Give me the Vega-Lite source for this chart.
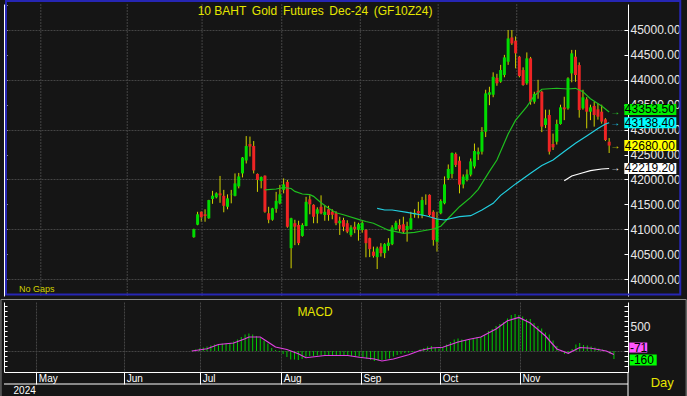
{
  "$schema": "https://vega.github.io/schema/vega-lite/v6.json",
  "background": "#151515",
  "padding": {"left": 0, "top": 0, "right": 0, "bottom": 0},
  "spacing": 1,
  "config": {
    "view": {"stroke": null},
    "font": "Liberation Sans",
    "axis": {"labelFont": "Liberation Sans", "labelColor": "#e8e8e8", "domainColor": "#ffffff", "tickColor": "#ffffff", "gridColor": "#444444", "gridDash": [2, 1], "title": null, "zindex": 0}
  },
  "datasets": {
    "candles": [
      {"i":0,"o":40840,"h":41010,"l":40830,"c":41000},{"i":1,"o":41090,"h":41350,"l":41080,"c":41300},{"i":2,"o":41350,"h":41360,"l":41150,"c":41240},{"i":3,"o":41300,"h":41400,"l":41150,"c":41265},{"i":4,"o":41220,"h":41590,"l":41210,"c":41585},{"i":5,"o":41606,"h":41770,"l":41510,"c":41673},{"i":6,"o":41640,"h":41740,"l":41620,"c":41720},{"i":7,"o":41720,"h":42070,"l":41530,"c":41680},{"i":8,"o":41670,"h":41790,"l":41340,"c":41470},{"i":9,"o":41450,"h":41700,"l":41400,"c":41620},
      {"i":10,"o":41700,"h":41790,"l":41520,"c":41710},{"i":11,"o":41670,"h":42120,"l":41660,"c":41920},{"i":12,"o":41860,"h":42130,"l":41820,"c":42060},{"i":13,"o":42120,"h":42450,"l":42040,"c":42440},{"i":14,"o":42380,"h":42870,"l":42320,"c":42670},{"i":15,"o":42710,"h":42860,"l":42460,"c":42660},{"i":16,"o":42670,"h":42770,"l":42120,"c":42180},{"i":17,"o":42110,"h":42120,"l":41750,"c":41990},{"i":18,"o":41970,"h":42060,"l":41820,"c":42050},{"i":19,"o":42075,"h":42080,"l":41330,"c":41350},
      {"i":20,"o":41320,"h":41450,"l":41120,"c":41190},{"i":21,"o":41190,"h":41430,"l":41170,"c":41420},{"i":22,"o":41410,"h":41750,"l":41330,"c":41570},{"i":23,"o":41520,"h":41890,"l":41500,"c":41700},{"i":24,"o":41790,"h":42020,"l":41720,"c":41900},{"i":25,"o":41950,"h":41990,"l":41030,"c":41050},{"i":26,"o":40620,"h":41230,"l":40215,"c":41220},{"i":27,"o":41120,"h":41190,"l":40680,"c":41050},{"i":28,"o":41085,"h":41170,"l":40680,"c":40720},{"i":29,"o":40865,"h":41120,"l":40850,"c":41085},
      {"i":30,"o":41065,"h":41650,"l":41060,"c":41550},{"i":31,"o":41600,"h":41680,"l":41300,"c":41500},{"i":32,"o":41490,"h":41500,"l":41120,"c":41250},{"i":33,"o":41310,"h":41440,"l":41120,"c":41400},{"i":34,"o":41450,"h":41680,"l":41300,"c":41320},{"i":35,"o":41285,"h":41470,"l":41170,"c":41350},{"i":36,"o":41400,"h":41470,"l":41170,"c":41285},{"i":37,"o":41350,"h":41400,"l":41200,"c":41290},{"i":38,"o":41320,"h":41360,"l":41080,"c":41120},{"i":39,"o":41120,"h":41250,"l":40885,"c":41170},
      {"i":40,"o":41185,"h":41230,"l":40960,"c":41050},{"i":41,"o":41120,"h":41180,"l":40920,"c":40950},{"i":42,"o":40885,"h":41080,"l":40850,"c":41037},{"i":43,"o":41050,"h":41150,"l":40920,"c":41000},{"i":44,"o":40990,"h":41130,"l":40770,"c":41100},{"i":45,"o":40985,"h":41160,"l":40930,"c":41130},{"i":46,"o":40985,"h":41000,"l":40436,"c":40720},{"i":47,"o":40820,"h":40830,"l":40440,"c":40600},{"i":48,"o":40550,"h":40650,"l":40430,"c":40465},{"i":49,"o":40440,"h":40650,"l":40200,"c":40615},
      {"i":50,"o":40650,"h":40720,"l":40450,"c":40520},{"i":51,"o":40520,"h":40720,"l":40420,"c":40700},{"i":52,"o":40665,"h":40820,"l":40570,"c":40730},{"i":53,"o":40700,"h":41080,"l":40680,"c":41037},{"i":54,"o":41000,"h":41170,"l":40980,"c":41130},{"i":55,"o":41085,"h":41200,"l":40950,"c":41005},{"i":56,"o":41100,"h":41250,"l":40920,"c":40950},{"i":57,"o":40985,"h":41150,"l":40750,"c":41064},{"i":58,"o":41005,"h":41350,"l":40990,"c":41220},{"i":59,"o":41300,"h":41400,"l":41230,"c":41330},
      {"i":60,"o":41365,"h":41550,"l":41220,"c":41320},{"i":61,"o":41285,"h":41650,"l":41220,"c":41585},{"i":62,"o":41590,"h":41700,"l":41490,"c":41586},{"i":63,"o":41690,"h":41700,"l":41260,"c":41285},{"i":64,"o":41350,"h":41380,"l":40670,"c":40785},{"i":65,"o":40750,"h":41350,"l":40550,"c":41200},{"i":66,"o":41320,"h":41600,"l":41300,"c":41566},{"i":67,"o":41520,"h":42060,"l":41500,"c":41900},{"i":68,"o":42022,"h":42300,"l":41990,"c":42210},{"i":69,"o":42110,"h":42540,"l":42020,"c":42530},
      {"i":70,"o":42510,"h":42540,"l":42250,"c":42290},{"i":71,"o":42376,"h":42460,"l":41720,"c":41895},{"i":72,"o":41900,"h":42100,"l":41820,"c":42056},{"i":73,"o":41990,"h":42200,"l":41960,"c":42100},{"i":74,"o":42095,"h":42420,"l":42060,"c":42362},{"i":75,"o":42260,"h":42720,"l":42220,"c":42570},{"i":76,"o":42503,"h":42640,"l":42390,"c":42557},{"i":77,"o":42557,"h":43050,"l":42500,"c":42958},{"i":78,"o":42958,"h":43800,"l":42850,"c":43728},{"i":79,"o":43700,"h":43860,"l":43490,"c":43750},
      {"i":80,"o":43700,"h":44150,"l":43650,"c":44060},{"i":81,"o":44040,"h":44120,"l":43880,"c":43930},{"i":82,"o":43962,"h":44300,"l":43940,"c":44196},{"i":83,"o":44096,"h":44500,"l":44050,"c":44450},{"i":84,"o":44363,"h":45000,"l":44300,"c":44830},{"i":85,"o":44850,"h":45000,"l":44700,"c":44730},{"i":86,"o":44785,"h":44870,"l":44230,"c":44532},{"i":87,"o":44464,"h":44480,"l":44050,"c":44076},{"i":88,"o":44196,"h":44250,"l":43880,"c":43895},{"i":89,"o":43930,"h":44550,"l":43900,"c":44430},
      {"i":90,"o":44431,"h":44460,"l":43500,"c":43560},{"i":91,"o":43560,"h":43760,"l":43520,"c":43715},{"i":92,"o":43780,"h":44000,"l":43620,"c":43740},{"i":93,"o":43760,"h":43780,"l":42950,"c":43060},{"i":94,"o":43092,"h":43400,"l":43030,"c":43226},{"i":95,"o":43293,"h":43400,"l":42500,"c":42557},{"i":96,"o":42711,"h":42920,"l":42590,"c":42644},{"i":97,"o":42757,"h":43200,"l":42700,"c":43112},{"i":98,"o":43112,"h":43500,"l":43100,"c":43447},{"i":99,"o":43447,"h":43660,"l":43190,"c":43407},
      {"i":100,"o":43427,"h":44050,"l":43400,"c":44029},{"i":101,"o":44129,"h":44600,"l":43950,"c":44531},{"i":102,"o":44464,"h":44600,"l":43960,"c":44096},{"i":103,"o":44296,"h":44350,"l":43240,"c":43393},{"i":104,"o":43427,"h":43800,"l":43400,"c":43648},{"i":105,"o":43608,"h":43650,"l":43025,"c":43360},{"i":106,"o":43360,"h":43500,"l":43190,"c":43447},{"i":107,"o":43474,"h":43560,"l":43060,"c":43293},{"i":108,"o":43407,"h":43520,"l":43200,"c":43260},{"i":109,"o":43360,"h":43500,"l":43120,"c":43160},
      {"i":110,"o":43206,"h":43230,"l":42770,"c":42791},{"i":111,"o":42757,"h":42830,"l":42530,"c":42680}
    ],
    "ma": [
      {"s":"g","i":19,"v":41790},{"s":"g","i":22,"v":41807},{"s":"g","i":24,"v":41837},{"s":"g","i":26,"v":41817},{"s":"g","i":27,"v":41760},{"s":"g","i":29,"v":41707},{"s":"g","i":31,"v":41695},{"s":"g","i":32,"v":41660},{"s":"g","i":34,"v":41530},{"s":"g","i":36,"v":41420},{"s":"g","i":38,"v":41330},{"s":"g","i":40,"v":41290},{"s":"g","i":44,"v":41199},{"s":"g","i":46,"v":41155},{"s":"g","i":48,"v":41120},{"s":"g","i":50,"v":41050},{"s":"g","i":52,"v":40980},{"s":"g","i":54,"v":40950},{"s":"g","i":56,"v":40918},{"s":"g","i":59,"v":40938},{"s":"g","i":61,"v":40964},{"s":"g","i":64,"v":41004},{"s":"g","i":66,"v":41060},{"s":"g","i":68,"v":41220},{"s":"g","i":71,"v":41452},{"s":"g","i":74,"v":41640},{"s":"g","i":76,"v":41800},{"s":"g","i":79,"v":42160},{"s":"g","i":81,"v":42390},{"s":"g","i":84,"v":42910},{"s":"g","i":86,"v":43190},{"s":"g","i":89,"v":43460},{"s":"g","i":91,"v":43680},{"s":"g","i":93,"v":43810},{"s":"g","i":97,"v":43830},{"s":"g","i":100,"v":43815},{"s":"g","i":102,"v":43829},{"s":"g","i":104,"v":43760},{"s":"g","i":106,"v":43620},{"s":"g","i":109,"v":43474},{"s":"g","i":111,"v":43353.5},
      {"s":"c","i":49,"v":41420},{"s":"c","i":51,"v":41386},{"s":"c","i":53,"v":41386},{"s":"c","i":57,"v":41339},{"s":"c","i":62,"v":41271},{"s":"c","i":65,"v":41205},{"s":"c","i":67,"v":41185},{"s":"c","i":71,"v":41251},{"s":"c","i":74,"v":41271},{"s":"c","i":77,"v":41386},{"s":"c","i":80,"v":41520},{"s":"c","i":82,"v":41680},{"s":"c","i":86,"v":41910},{"s":"c","i":90,"v":42122},{"s":"c","i":93,"v":42280},{"s":"c","i":96,"v":42390},{"s":"c","i":99,"v":42560},{"s":"c","i":102,"v":42725},{"s":"c","i":105,"v":42870},{"s":"c","i":108,"v":43020},{"s":"c","i":110,"v":43112},{"s":"c","i":111,"v":43138.4},
      {"s":"w","i":99,"v":41974},{"s":"w","i":101,"v":42068},{"s":"w","i":104,"v":42134},{"s":"w","i":106,"v":42175},{"s":"w","i":109,"v":42209},{"s":"w","i":111,"v":42219.2}
    ],
    "labels": [
      {"t":"43353.50","v":43353.5,"k":"g"},{"t":"43138.40","v":43138.4,"k":"c"},{"t":"42680.00","v":42680,"k":"y"},{"t":"42219.20","v":42219.2,"k":"w"}
    ],
    "months": [
      {"p":-40.9,"n":"May"},{"p":-17.8,"n":"Jun"},{"p":2.2,"n":"Jul"},{"p":23.5,"n":"Aug"},{"p":44.5,"n":"Sep"},{"p":65.3,"n":"Oct"},{"p":86.3,"n":"Nov"}
    ],
    "macd": [
      {"i":0,"m":10},{"i":1,"m":30},{"i":2,"m":50},{"i":3,"m":70},{"i":4,"m":90},{"i":5,"m":110},{"i":6,"m":130},{"i":7,"m":140},{"i":8,"m":150},{"i":9,"m":150},
      {"i":10,"m":160},{"i":11,"m":190},{"i":12,"m":230},{"i":13,"m":280},{"i":14,"m":330},{"i":15,"m":350},{"i":16,"m":330},{"i":17,"m":300},{"i":18,"m":260},{"i":19,"m":210},
      {"i":20,"m":150},{"i":21,"m":60},{"i":22,"m":20},{"i":23,"m":-20},{"i":24,"m":-60},{"i":25,"m":-120},{"i":26,"m":-170},{"i":27,"m":-170},{"i":28,"m":-180},{"i":29,"m":-160},
      {"i":30,"m":-120},{"i":31,"m":-100},{"i":32,"m":-100},{"i":33,"m":-90},{"i":34,"m":-90},{"i":35,"m":-85},{"i":36,"m":-80},{"i":37,"m":-80},{"i":38,"m":-85},{"i":39,"m":-90},
      {"i":40,"m":-95},{"i":41,"m":-100},{"i":42,"m":-100},{"i":43,"m":-110},{"i":44,"m":-115},{"i":45,"m":-120},{"i":46,"m":-150},{"i":47,"m":-180},{"i":48,"m":-200},{"i":49,"m":-190},
      {"i":50,"m":-180},{"i":51,"m":-170},{"i":52,"m":-150},{"i":53,"m":-110},{"i":54,"m":-80},{"i":55,"m":-60},{"i":56,"m":-40},{"i":57,"m":-30},{"i":58,"m":-20},{"i":59,"m":0},
      {"i":60,"m":30},{"i":61,"m":60},{"i":62,"m":90},{"i":63,"m":100},{"i":64,"m":60},{"i":65,"m":50},{"i":66,"m":80},{"i":67,"m":130},{"i":68,"m":180},{"i":69,"m":230},
      {"i":70,"m":250},{"i":71,"m":230},{"i":72,"m":220},{"i":73,"m":230},{"i":74,"m":250},{"i":75,"m":280},{"i":76,"m":280},{"i":77,"m":320},{"i":78,"m":400},{"i":79,"m":440},
      {"i":80,"m":500},{"i":81,"m":540},{"i":82,"m":580},{"i":83,"m":650},{"i":84,"m":720},{"i":85,"m":740},{"i":86,"m":720},{"i":87,"m":690},{"i":88,"m":640},{"i":89,"m":640},
      {"i":90,"m":560},{"i":91,"m":500},{"i":92,"m":450},{"i":93,"m":370},{"i":94,"m":330},{"i":95,"m":210},{"i":96,"m":100},{"i":97,"m":20},{"i":98,"m":-60},{"i":99,"m":-60},
      {"i":100,"m":40},{"i":101,"m":130},{"i":102,"m":160},{"i":103,"m":120},{"i":104,"m":110},{"i":105,"m":90},{"i":106,"m":70},{"i":107,"m":50},{"i":108,"m":30},{"i":109,"m":0},
      {"i":110,"m":-60},{"i":111,"m":-160}
    ],
    "signal": [
      {"i":0,"v":0},{"i":4,"v":45},{"i":7,"v":130},{"i":11,"v":160},{"i":14,"v":245},{"i":15,"v":280},{"i":18,"v":280},{"i":20,"v":180},{"i":22,"v":80},{"i":25,"v":30},{"i":28,"v":-55},{"i":30,"v":-135},{"i":35,"v":-90},{"i":41,"v":-90},{"i":44,"v":-125},{"i":48,"v":-160},{"i":50,"v":-200},{"i":53,"v":-160},{"i":57,"v":-75},{"i":60,"v":10},{"i":63,"v":60},{"i":66,"v":75},{"i":70,"v":180},{"i":73,"v":235},{"i":76,"v":280},{"i":80,"v":440},{"i":83,"v":605},{"i":86,"v":670},{"i":89,"v":560},{"i":93,"v":300},{"i":96,"v":40},{"i":99,"v":-45},{"i":102,"v":70},{"i":105,"v":55},{"i":109,"v":0},{"i":111,"v":-71}
    ],
    "mlabels": [
      {"t":"-71","v":-71,"k":"s"},{"t":"-160","v":-160,"k":"m"}
    ]
  },
  "vconcat": [
    {
      "width": 624,
      "height": 292,
      "resolve": {"axis": {"y": "independent"}},
      "layer": [
        {
          "data": {"name": "candles"},
          "mark": {"type": "rule", "color": "#d2d200", "strokeWidth": 1},
          "encoding": {
            "x": {"field": "i", "type": "quantitative", "scale": {"domain": [-49.4, 114.7], "nice": false, "zero": false}, "axis": null},
            "y": {"field": "l", "type": "quantitative", "scale": {"domain": [39659, 45522], "nice": false, "zero": false},
                  "axis": {"orient": "right",
                           "values": [40000,40500,41000,41500,42000,42500,43000,43500,44000,44500,45000],
                           "format": ".2f", "labelOverlap": false, "labelFontSize": 12, "labelPadding": 6, "labelBaseline": "middle",
                           "tickSize": -4,
                           "gridOpacity": {"condition": {"test": "datum.value % 1000 === 0", "value": 1}, "value": 0},
                           "grid": true}},
            "y2": {"field": "h"}
          }
        },
        {
          "data": {"name": "months"},
          "mark": {"type": "rule", "color": "#444444", "strokeDash": [2, 1], "strokeWidth": 1},
          "encoding": {
            "x": {"field": "p", "type": "quantitative", "axis": null}
          }
        },
        {
          "data": {"name": "candles"},
          "mark": {"type": "bar", "size": 3},
          "encoding": {
            "x": {"field": "i", "type": "quantitative", "axis": null},
            "y": {"field": "o", "type": "quantitative", "axis": null},
            "y2": {"field": "c"},
            "color": {"condition": {"test": "datum.c >= datum.o", "value": "#00dc00"}, "value": "#ee2424"}
          }
        },
        {
          "data": {"name": "ma"},
          "mark": {"type": "line", "strokeWidth": 1.2},
          "encoding": {
            "x": {"field": "i", "type": "quantitative", "axis": null},
            "y": {"field": "v", "type": "quantitative", "axis": null},
            "stroke": {"field": "s", "type": "nominal", "scale": {"domain": ["g", "c", "w"], "range": ["#1fbf1f", "#22cfe0", "#ffffff"]}, "legend": null}
          }
        },
        {
          "data": {"name": "labels"},
          "mark": {"type": "text", "text": "→", "fontSize": 10, "fontWeight": "bold", "align": "center", "baseline": "middle"},
          "encoding": {
            "x": {"datum": 112.6, "axis": null},
            "y": {"field": "v", "type": "quantitative", "axis": null},
            "color": {"field": "k", "type": "nominal", "scale": {"domain": ["g", "c", "y", "w"], "range": ["#2ccf2c", "#22cfe0", "#e0e000", "#ffffff"]}, "legend": null}
          }
        },
        {
          "data": {"name": "labels"},
          "transform": [{"filter": "datum.k === 'g'"}],
          "mark": {"type": "tick", "orient": "horizontal", "thickness": 11, "size": 52, "clip": false, "color": "#00ee00", "opacity": 1, "yOffset": -2.5},
          "encoding": {
            "x": {"datum": 122.0, "axis": null},
            "y": {"field": "v", "type": "quantitative", "axis": null}
          }
        },
        {
          "data": {"name": "labels"},
          "transform": [{"filter": "datum.k !== 'g'"}],
          "mark": {"type": "tick", "orient": "horizontal", "thickness": 11, "size": 52, "clip": false, "opacity": 1},
          "encoding": {
            "x": {"datum": 122.0, "axis": null},
            "y": {"field": "v", "type": "quantitative", "axis": null},
            "fill": {"field": "k", "type": "nominal", "scale": {"domain": ["c", "y", "w"], "range": ["#00ffff", "#ffff00", "#ffffff"]}, "legend": null}
          }
        },
        {
          "data": {"name": "labels"},
          "transform": [{"filter": "datum.k === 'g'"}],
          "mark": {"type": "text", "align": "left", "baseline": "middle", "fontSize": 12, "color": "#000000", "yOffset": -2.5},
          "encoding": {
            "x": {"datum": 115.2, "axis": null},
            "y": {"field": "v", "type": "quantitative", "axis": null},
            "text": {"field": "t"}
          }
        },
        {
          "data": {"name": "labels"},
          "transform": [{"filter": "datum.k !== 'g'"}],
          "mark": {"type": "text", "align": "left", "baseline": "middle", "fontSize": 12, "color": "#000000"},
          "encoding": {
            "x": {"datum": 115.2, "axis": null},
            "y": {"field": "v", "type": "quantitative", "axis": null},
            "text": {"field": "t"}
          }
        },
        {
          "data": {"values": [{"t": "10 BAHT \u2009Gold \u2009Futures \u2009Dec-24 \u2009(GF10Z24)"}]},
          "mark": {"type": "text", "align": "center", "baseline": "middle", "fontSize": 12, "color": "#e6e600"},
          "encoding": {
            "x": {"datum": 32.4, "axis": null},
            "y": {"datum": 45381, "axis": null},
            "text": {"field": "t"}
          }
        },
        {
          "data": {"values": [{"a": 1}]},
          "mark": {"type": "rect", "filled": false, "stroke": "#2626b4", "strokeWidth": 2, "clip": false},
          "encoding": {
            "x": {"datum": -50.2, "axis": null},
            "x2": {"datum": 130.0},
            "y": {"datum": 45582, "axis": null},
            "y2": {"datum": 39690}
          }
        },
        {
          "data": {"values": [{"t": "No Gaps"}]},
          "mark": {"type": "text", "align": "left", "baseline": "middle", "fontSize": 9, "color": "#d0d000"},
          "encoding": {
            "x": {"datum": -46.7, "axis": null},
            "y": {"datum": 39790, "axis": {"orient": "left", "values": [40000,40500,41000,41500,42000,42500,43000,43500,44000,44500,45000,45500], "labels": false, "tickSize": -3, "grid": false, "domain": true}},
            "text": {"field": "t"}
          }
        }
      ]
    },
    {
      "width": 624,
      "height": 70,
      "resolve": {"axis": {"y": "independent"}},
      "layer": [
        {
          "data": {"name": "macd"},
          "mark": {"type": "rule", "color": "#00cc00", "strokeWidth": 1},
          "encoding": {
            "x": {"field": "i", "type": "quantitative", "scale": {"domain": [-49.4, 114.7], "nice": false, "zero": false},
                  "axis": {"orient": "bottom", "values": [-40.9, -17.8, 2.2, 23.5, 44.5, 65.3, 86.3],
                           "labelExpr": "['May','Jun','Jul','Aug','Sep','Oct','Nov'][indexof([-40.9,-17.8,2.2,23.5,44.5,65.3,86.3], datum.value)]",
                           "labelAlign": "left", "labelBaseline": "top", "labelOffset": 2, "labelPadding": -11, "labelFontSize": 10, "labelColor": "#ffffff",
                           "tickSize": 12, "grid": true, "domain": true}},
            "y": {"field": "m", "type": "quantitative", "scale": {"domain": [-420, 980], "nice": false, "zero": false},
                  "axis": {"orient": "right", "values": [-300,-200,-100,0,100,200,300,400,500,600,700,800,900],
                           "labelExpr": "datum.value === 500 ? '500' : ''", "labelOverlap": false, "labelFontSize": 12, "labelPadding": 6, "labelBaseline": "middle",
                           "tickSize": -4,
                           "gridOpacity": {"condition": {"test": "datum.value === 0", "value": 1}, "value": 0},
                           "grid": true}},
            "y2": {"datum": 0}
          }
        },
        {
          "data": {"name": "signal"},
          "mark": {"type": "line", "color": "#e040e0", "strokeWidth": 1.2},
          "encoding": {
            "x": {"field": "i", "type": "quantitative"},
            "y": {"field": "v", "type": "quantitative", "axis": null}
          }
        },
        {
          "data": {"values": [{"t": "MACD"}]},
          "mark": {"type": "text", "align": "center", "baseline": "middle", "fontSize": 12, "color": "#e6e600"},
          "encoding": {"x": {"datum": 32.4}, "y": {"datum": 780, "axis": {"orient": "left", "values": [-300,-200,-100,0,100,200,300,400,500,600,700,800,900], "labels": false, "tickSize": -3, "grid": false, "domain": true}}, "text": {"field": "t"}}
        },
        {
          "data": {"name": "mlabels"},
          "transform": [{"filter": "datum.k === 's'"}],
          "mark": {"type": "tick", "orient": "horizontal", "thickness": 10, "size": 18, "clip": false, "color": "#ff55ff", "opacity": 1, "yOffset": -7},
          "encoding": {"x": {"datum": 117.4}, "y": {"field": "v", "type": "quantitative", "axis": null}}
        },
        {
          "data": {"name": "mlabels"},
          "transform": [{"filter": "datum.k === 'm'"}],
          "mark": {"type": "tick", "orient": "horizontal", "thickness": 11, "size": 27, "clip": false, "color": "#00ff00", "opacity": 1, "yOffset": 1},
          "encoding": {"x": {"datum": 118.7}, "y": {"field": "v", "type": "quantitative", "axis": null}}
        },
        {
          "data": {"name": "mlabels"},
          "transform": [{"filter": "datum.k === 's'"}],
          "mark": {"type": "text", "align": "left", "baseline": "middle", "fontSize": 12, "color": "#000000", "yOffset": -7},
          "encoding": {"x": {"datum": 115.2}, "y": {"field": "v", "type": "quantitative", "axis": null}, "text": {"field": "t"}}
        },
        {
          "data": {"name": "mlabels"},
          "transform": [{"filter": "datum.k === 'm'"}],
          "mark": {"type": "text", "align": "left", "baseline": "middle", "fontSize": 12, "color": "#000000", "yOffset": 1},
          "encoding": {"x": {"datum": 115.2}, "y": {"field": "v", "type": "quantitative", "axis": null}, "text": {"field": "t"}}
        },
        {
          "data": {"values": [{"t": "Day"}]},
          "mark": {"type": "text", "align": "center", "baseline": "middle", "fontSize": 13, "color": "#e6e600"},
          "encoding": {"x": {"datum": 123.7}, "y": {"datum": -640, "axis": null}, "text": {"field": "t"}}
        },
        {
          "data": {"values": [{"t": "2024"}]},
          "mark": {"type": "text", "align": "left", "baseline": "middle", "fontSize": 10, "color": "#ffffff"},
          "encoding": {"x": {"datum": -46.9}, "y": {"datum": -800, "axis": null}, "text": {"field": "t"}}
        },
        {
          "data": {"values": [{"a": 1}]},
          "mark": {"type": "rule", "color": "#ffffff", "strokeWidth": 1},
          "encoding": {"x": {"datum": -49.4}, "x2": {"datum": 114.7}, "y": {"datum": -660, "axis": null}}
        },
        {
          "data": {"values": [{"a": 1}]},
          "mark": {"type": "rule", "color": "#ffffff", "strokeWidth": 1},
          "encoding": {"x": {"datum": 114.7}, "y": {"datum": -420, "axis": null}, "y2": {"datum": -930}}
        },
        {
          "data": {"values": [{"a": 1}]},
          "mark": {"type": "rect", "filled": false, "stroke": "#8a8a8a", "strokeWidth": 1, "clip": false},
          "encoding": {"x": {"datum": -50.2}, "x2": {"datum": 130.0}, "y": {"datum": 1030, "axis": null}, "y2": {"datum": -930}}
        }
      ]
    }
  ]
}
